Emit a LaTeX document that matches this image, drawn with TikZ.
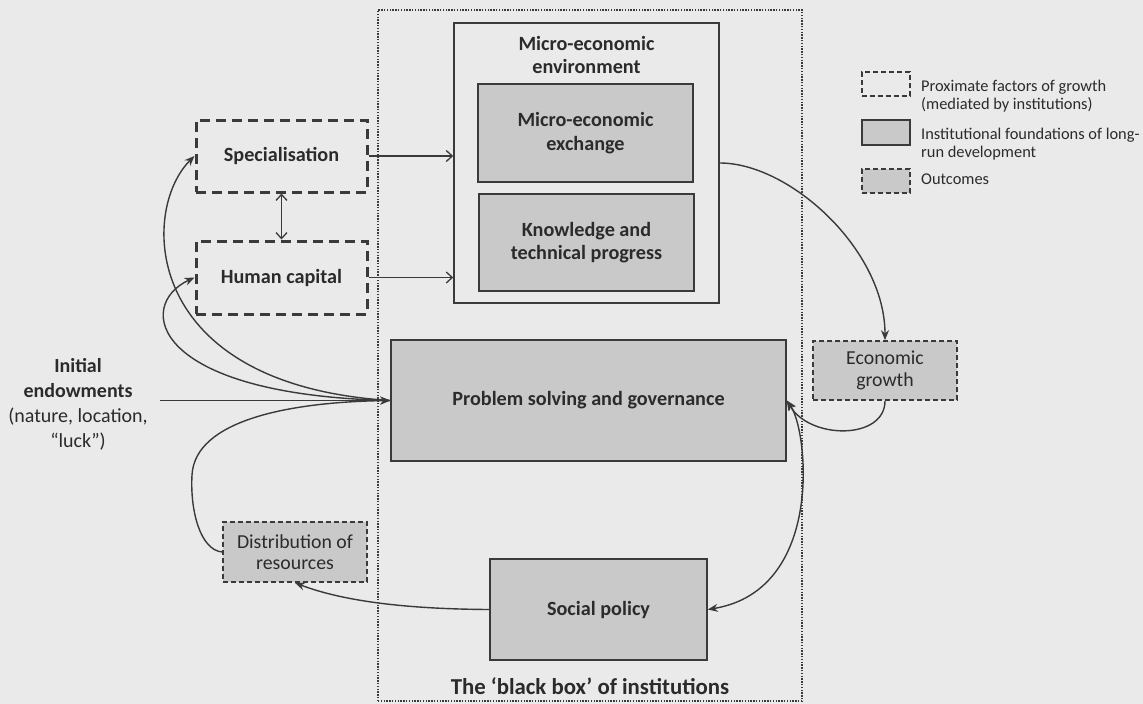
\documentclass[tikz,border=0pt]{standalone}
\usepackage{fontspec}
\setmainfont{Carlito}
\usetikzlibrary{arrows.meta}
\definecolor{bg}{HTML}{EAEAEA}
\definecolor{boxfill}{HTML}{C9C9C9}
\definecolor{ln}{HTML}{3A3A3A}
\definecolor{tx}{HTML}{2B2B2B}
\begin{document}
\begin{tikzpicture}[x=1pt,y=-1pt,
  mainfont/.style={font=\bfseries\fontsize{20.2}{23.5}\selectfont},
  solidbox/.style={draw=ln, line width=1.6pt, fill=boxfill, text=tx, align=center, mainfont, inner sep=0pt},
  envbox/.style={draw=ln, line width=1.6pt, fill=bg, inner sep=0pt},
  proxbox/.style={draw=ln, line width=3pt, dash pattern=on 10pt off 6pt, text=tx, align=center, mainfont, inner sep=0pt},
  outbox/.style={draw=ln, line width=1.7pt, dash pattern=on 5pt off 3pt, fill=boxfill, text=tx, align=center, font=\fontsize{19.8}{21.5}\selectfont, inner sep=0pt},
  plaintext/.style={text=tx, align=center, inner sep=0pt},
  legtext/.style={text=tx, align=left, inner sep=0pt, anchor=west, font=\fontsize{16.4}{18}\selectfont},
  curvearrow/.style={draw=ln, line width=1.4pt, -{Stealth[length=10pt,width=8pt]}},
  openarrow/.style={draw=ln, line width=1.3pt, -{Straight Barb[length=6pt,width=11pt]}},
]
\fill[bg] (0,0) rectangle (1143,704);
\useasboundingbox (0,0) rectangle (1143,704);

% black box of institutions
\node[draw=ln, line width=1.8pt, dash pattern=on 1.4pt off 1.4pt, minimum width=424pt, minimum height=691pt, inner sep=0pt] (bb) at (590,355.5) {};
\node[plaintext, font=\bfseries\fontsize{22.8}{26}\selectfont] (bbt) at (590,686) {The ‘black box’ of institutions};

% micro-economic environment
\node[envbox, minimum width=265pt, minimum height=280pt] (env) at (586.5,163) {};
\node[plaintext, mainfont] (envl) at (586.5,55) {Micro-economic\\environment};
\node[solidbox, minimum width=215pt, minimum height=98pt] (mex) at (585.5,133) {Micro-economic\\exchange};
\node[solidbox, minimum width=215pt, minimum height=97pt] (kno) at (586.5,242.5) {Knowledge and\\technical progress};

% proximate factors
\node[proxbox, minimum width=171pt, minimum height=72pt] (spec) at (281.5,156) {Specialisation};
\node[proxbox, minimum width=171pt, minimum height=73pt] (hc) at (281.5,277.5) {Human capital};

% problem solving, social policy
\node[solidbox, minimum width=395pt, minimum height=121pt] (ps) at (588.5,400.5) {Problem solving and governance};
\node[solidbox, minimum width=217pt, minimum height=101pt] (sp) at (598.5,609.5) {Social policy};

% outcomes
\node[outbox, minimum width=144pt, minimum height=59pt] (eg) at (885,370.5) {Economic\\growth};
\node[outbox, minimum width=144pt, minimum height=60pt] (dist) at (295,552) {Distribution of\\resources};

% initial endowments
\node[plaintext, font=\fontsize{20}{25}\selectfont] (init) at (78,404) {\textbf{Initial}\\\textbf{endowments}\\(nature, location,\\“luck”)};
\coordinate (ie) at (160,400.5);

% legend
\node[draw=ln, line width=1.5pt, dash pattern=on 5pt off 3pt, minimum width=48pt, minimum height=24pt, inner sep=0pt] (lg1) at (886,84) {};
\node[draw=ln, line width=1.5pt, fill=boxfill, minimum width=48pt, minimum height=25pt, inner sep=0pt] (lg2) at (886,132.5) {};
\node[draw=ln, line width=1.5pt, dash pattern=on 5pt off 3pt, fill=boxfill, minimum width=48pt, minimum height=24pt, inner sep=0pt] (lg3) at (886,181) {};
\node[legtext] (lt1) at (921,96) {Proximate factors of growth\\(mediated by institutions)};
\node[legtext] (lt2) at (921,144) {Institutional foundations of long-\\run development};
\node[legtext] (lt3) at (921,179) {Outcomes};

% straight connectors
\draw[openarrow] (spec.east) -- (spec.east -| env.west);
\draw[openarrow] (hc.east) -- (hc.east -| env.west);
\draw[draw=ln, line width=1.3pt, {Straight Barb[length=6pt,width=11pt]}-{Straight Barb[length=6pt,width=11pt]}] (spec.south) -- (hc.north);
\draw[curvearrow, line width=1.2pt] (ie) -- (ps.west);

% curved connectors
\draw[curvearrow] (ps.west) .. controls (140,385) and (140,210) .. (spec.west);
\draw[curvearrow] (ps.west) .. controls (150,395) and (135,305) .. (hc.west);
\draw[curvearrow] (dist.west) .. controls (200,550) and (190,510) .. (192,475) .. controls (195,420) and (290,402) .. (ps.west);
\draw[curvearrow] (sp.west) .. controls (400,609) and (340,600) .. (dist.south);
\draw[curvearrow, {Stealth[length=10pt,width=8pt]}-{Stealth[length=10pt,width=8pt]}] (ps.east) .. controls (808,430) and (825,590) .. (sp.east);
\draw[curvearrow] (eg.south) .. controls (885,440) and (810,440) .. (ps.east);
\draw[curvearrow] (env.east) .. controls (790,163) and (885,250) .. (eg.north);
\end{tikzpicture}
\end{document}
